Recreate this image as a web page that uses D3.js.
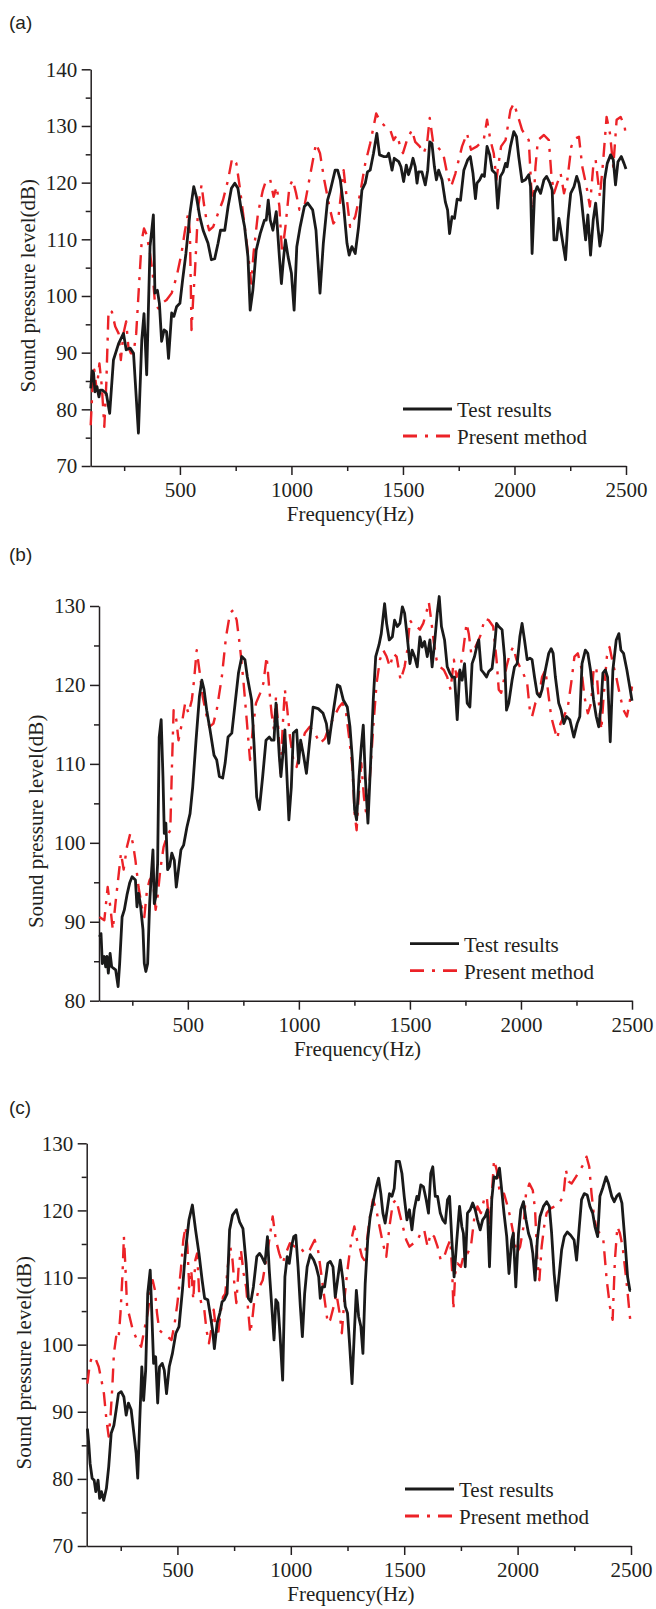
<!DOCTYPE html>
<html>
<head>
<meta charset="utf-8">
<script src="https://cdn.jsdelivr.net/npm/d3@7"></script>
<style>
  body { margin: 0; background: #fff; }
  svg text { font-family: "Liberation Serif", "Times New Roman", serif; fill: #231f20; }
</style>
</head>
<body>
<svg id="chart" width="656" height="1609"></svg>
<script>
// ---- data (Hz, dB) ----
const aTestFreq = [100,107,113,119,128,137,143,152,161,170,185,202,225,247,259,277,292,314,329,339,351,366,381,388,399,408,418,429,440,449,463,473,485,500,512,527,545,562,574,589,604,626,641,656,671,682,701,716,731,746,760,775,790,805,815,827,842,860,879,887,896,905,917,932,946,955,964,973,985,1000,1012,1024,1039,1058,1073,1095,1110,1128,1143,1162,1173,1196,1207,1219,1234,1249,1259,1271,1286,1301,1316,1331,1341,1353,1368,1383,1395,1413,1428,1436,1451,1461,1481,1491,1503,1515,1525,1536,1545,1555,1563,1570,1585,1600,1611,1620,1630,1641,1650,1660,1675,1690,1700,1709,1720,1731,1743,1758,1773,1790,1802,1814,1825,1832,1844,1855,1865,1877,1889,1900,1915,1925,1937,1949,1960,1967,1982,1997,2009,2019,2034,2049,2064,2072,2079,2090,2102,2117,2132,2144,2159,2169,2177,2189,2199,2210,2229,2240,2252,2267,2279,2289,2299,2308,2319,2329,2341,2353,2364,2374,2383,2394,2404,2416,2431,2443,2453,2464,2479,2491,2500];
const aTestSpl = [83.7,86.8,86.4,83.1,84.0,82.2,83.4,83.4,83.1,82.8,79.3,88.7,91.6,93.4,90.5,90.8,89.9,75.8,92.2,96.9,86.1,108.7,114.3,100.5,101.0,98.7,92.0,94.0,93.7,89.0,97.0,96.4,98.1,98.7,102.8,107.5,114.6,119.3,117.5,114.0,111.6,109.3,106.4,106.6,109.3,111.6,111.6,115.8,119.0,119.9,119.0,115.2,112.2,106.9,97.5,101.0,108.1,111.0,113.4,113.4,116.9,113.4,111.6,114.9,106.9,102.2,106.4,109.9,106.9,104.0,97.5,108.7,112.2,115.8,116.4,115.2,111.6,100.5,109.3,116.9,118.4,122.2,122.2,120.5,115.8,109.3,107.2,108.7,107.5,112.2,118.7,119.9,121.9,122.2,125.2,128.7,124.9,124.6,124.6,125.2,122.2,124.3,123.7,122.8,120.2,123.1,121.4,122.8,124.3,122.8,119.9,121.9,121.9,119.6,122.2,127.2,126.9,122.8,120.5,122.2,120.5,116.6,115.2,111.0,114.0,113.7,117.1,116.9,122.2,124.0,124.6,121.6,117.2,119.9,120.5,121.4,121.1,126.4,124.9,122.2,121.6,115.5,121.1,121.9,123.4,122.8,126.4,129.0,128.1,124.6,120.2,120.5,121.4,119.3,107.5,118.1,119.3,118.1,120.5,121.1,119.9,118.7,109.9,109.9,113.7,111.0,106.4,113.4,118.1,119.3,121.1,119.9,117.5,114.0,109.9,114.3,107.2,113.4,116.4,112.2,108.8,111.6,120.5,123.4,124.9,124.0,119.6,123.7,124.6,123.4,122.4];
const aPredFreq = [100,109,116,127,139,150,161,170,180,195,210,225,235,247,259,269,280,292,304,318,329,339,351,366,378,388,403,418,440,463,485,507,522,537,545,552,560,567,582,597,607,619,631,649,671,693,716,734,753,768,783,798,812,820,830,850,872,887,905,920,934,946,958,973,991,1006,1021,1036,1058,1088,1110,1128,1147,1170,1188,1211,1234,1249,1263,1286,1308,1331,1353,1380,1398,1421,1443,1458,1473,1488,1500,1518,1540,1555,1575,1593,1608,1620,1635,1653,1680,1698,1716,1735,1765,1787,1805,1832,1862,1877,1892,1907,1919,1930,1940,1960,1982,1997,2012,2034,2064,2075,2084,2094,2105,2132,2154,2165,2177,2192,2207,2222,2237,2255,2274,2289,2304,2323,2338,2353,2364,2374,2383,2398,2413,2428,2443,2458,2476,2494,2500];
const aPredSpl = [77.2,84.6,87.0,83.4,88.1,84.0,76.9,84.6,97.5,97.2,94.6,93.4,88.7,93.4,95.5,91.0,89.9,89.9,93.4,102.8,109.9,111.9,110.8,107.5,104.0,98.7,97.8,98.7,99.3,100.5,103.4,107.5,111.4,114.6,111.0,94.0,99.9,104.0,115.8,119.6,116.4,113.4,111.6,112.2,114.6,116.9,120.5,124.3,123.4,119.3,114.6,109.9,105.2,102.2,107.5,114.6,118.7,120.5,120.5,117.5,119.3,115.8,107.5,112.2,119.3,120.5,118.1,115.2,115.8,122.2,126.9,125.2,120.5,115.8,112.8,114.0,122.2,116.9,112.2,114.0,118.1,123.4,126.9,132.2,130.8,129.9,129.3,127.5,128.4,126.4,125.2,127.5,129.3,127.2,126.4,125.2,126.9,131.4,127.2,126.4,125.2,121.6,119.3,121.6,126.4,128.7,125.8,126.4,127.5,131.1,127.5,125.2,120.5,123.7,126.4,127.5,132.8,134.0,132.2,129.3,127.5,119.3,115.2,122.8,127.5,128.4,127.5,121.6,118.1,119.9,121.6,118.1,120.5,126.4,127.8,128.1,122.8,119.3,115.8,122.8,124.0,120.5,117.5,124.0,131.6,128.7,122.8,131.1,131.6,129.9,128.0];

const bTestFreq = [102,109,115,124,130,136,142,150,157,166,175,186,193,204,214,226,238,249,264,271,278,286,298,304,311,319,328,335,343,349,356,364,371,380,388,394,401,409,418,428,439,448,458,469,481,496,510,522,537,552,563,573,585,600,618,630,642,657,668,681,698,713,728,743,757,768,787,798,810,822,837,852,867,877,888,897,904,912,919,927,937,945,955,966,975,990,999,1008,1022,1034,1049,1064,1087,1109,1124,1135,1143,1158,1173,1185,1200,1218,1230,1241,1251,1260,1271,1281,1290,1299,1311,1323,1335,1346,1361,1371,1386,1395,1407,1421,1431,1443,1455,1466,1476,1488,1500,1510,1521,1533,1545,1555,1566,1578,1590,1600,1611,1623,1632,1642,1656,1668,1680,1690,1701,1713,1725,1735,1746,1758,1770,1780,1791,1803,1810,1821,1833,1845,1855,1870,1881,1890,1900,1915,1926,1935,1945,1960,1971,1983,1995,2005,2016,2028,2040,2050,2061,2073,2085,2095,2110,2125,2136,2145,2155,2170,2181,2193,2205,2220,2238,2253,2265,2275,2290,2301,2313,2327,2339,2350,2360,2369,2380,2390,2402,2414,2429,2441,2450,2462,2477,2492,2500];
const bTestSpl = [88.1,88.5,84.7,85.6,84.3,85.6,83.5,86.0,84.3,84.1,83.9,81.8,84.7,90.6,91.5,93.4,94.9,95.7,95.3,91.9,93.6,92.3,89.0,84.7,83.7,84.7,92.3,95.7,99.1,92.3,93.2,97.4,113.4,115.6,108.4,101.2,102.5,96.6,97.0,98.7,97.8,94.4,96.6,99.1,99.7,102.0,103.7,107.1,113.0,118.5,120.6,119.4,116.8,114.3,111.1,110.5,108.4,108.2,110.1,113.4,113.9,117.7,121.5,123.6,123.2,121.0,118.1,112.6,105.8,104.2,108.4,113.0,113.4,113.0,113.0,117.7,114.7,110.9,108.4,110.9,114.3,109.2,102.9,107.1,113.9,114.3,110.1,113.0,110.9,108.8,113.0,117.2,117.0,116.4,115.1,112.6,114.3,117.2,120.0,119.8,118.1,117.2,114.7,110.5,104.2,102.9,108.4,112.2,114.9,108.4,102.5,110.1,118.1,123.6,125.1,126.5,130.3,127.8,125.7,126.1,128.2,127.4,127.8,129.9,129.1,126.1,122.7,124.4,123.6,122.3,126.1,124.8,125.5,123.6,125.7,122.3,125.3,129.1,131.2,127.4,125.7,122.3,121.5,121.0,121.0,115.6,121.9,120.6,122.7,117.7,117.2,122.7,123.6,125.1,125.7,121.9,121.5,121.0,121.7,122.1,124.8,127.8,127.4,127.0,123.6,116.8,117.7,120.6,122.3,122.7,126.1,127.8,125.7,123.2,123.4,123.2,121.0,118.9,118.5,119.4,121.9,124.0,124.6,124.0,121.0,117.7,116.8,115.1,116.0,115.6,113.4,115.1,116.0,122.7,124.4,124.0,121.9,118.1,116.0,114.7,117.2,121.5,121.9,121.0,112.8,121.9,125.7,126.5,124.4,124.0,121.9,119.4,118.0];
const bPredFreq = [102,124,139,151,162,174,189,199,211,226,241,253,264,278,293,304,316,328,338,346,355,364,376,391,406,421,428,436,448,458,473,488,503,518,528,540,552,567,582,597,615,630,653,672,690,705,720,735,750,765,780,792,807,825,840,855,867,877,888,897,907,918,927,937,948,960,975,990,1005,1027,1049,1072,1094,1117,1136,1143,1166,1181,1196,1211,1226,1241,1251,1260,1271,1281,1293,1305,1320,1335,1350,1365,1380,1395,1410,1425,1440,1458,1476,1488,1500,1515,1530,1545,1560,1575,1585,1596,1608,1620,1635,1653,1668,1683,1698,1710,1725,1740,1755,1765,1776,1788,1803,1821,1836,1855,1875,1890,1900,1911,1923,1935,1950,1965,1980,1995,2010,2028,2040,2050,2065,2080,2095,2110,2125,2136,2148,2163,2178,2193,2211,2226,2241,2256,2271,2286,2301,2316,2327,2339,2351,2362,2372,2387,2399,2414,2429,2447,2462,2477,2489,2500];
const bPredSpl = [90.6,90.2,94.4,91.9,89.0,92.3,96.1,98.7,96.6,99.5,101.2,99.9,97.8,94.4,91.9,90.6,94.0,95.3,95.7,94.4,91.5,93.2,96.6,99.5,100.8,101.6,109.2,116.8,115.6,113.0,115.1,117.7,116.4,118.1,120.6,124.4,121.9,118.5,116.4,114.7,115.1,116.8,121.0,126.1,129.1,129.5,128.2,124.8,120.6,115.6,110.5,114.3,117.7,118.9,120.2,123.6,119.4,116.4,114.3,118.5,114.7,108.8,114.7,119.4,116.8,113.4,110.5,109.6,111.8,113.9,114.7,113.9,112.6,113.2,114.7,115.1,116.4,117.2,117.7,116.8,113.4,109.6,103.7,101.6,106.7,110.1,105.8,103.3,108.4,114.7,120.2,123.2,124.4,123.6,122.3,124.0,123.6,120.6,122.3,124.4,128.2,127.6,127.4,127.0,127.8,129.3,130.5,128.2,125.3,123.2,122.3,121.9,121.0,119.4,123.2,121.0,121.9,124.4,127.8,126.5,124.0,124.4,125.3,126.5,128.4,128.2,127.4,123.2,119.4,119.0,120.6,122.3,124.0,124.8,123.2,122.3,121.5,120.2,116.8,116.0,117.7,118.5,121.0,121.9,118.5,116.0,114.7,113.2,115.1,116.0,117.2,120.2,123.6,124.0,122.3,118.5,116.4,117.7,121.9,122.3,117.7,114.3,118.5,123.6,124.8,122.7,121.0,118.5,116.8,116.0,117.7,119.8];

const cTestFreq = [103,109,115,124,133,140,150,157,165,175,187,197,208,220,230,240,252,264,274,284,296,308,318,325,334,343,351,360,369,380,386,395,404,413,421,433,442,452,464,478,493,507,522,536,551,566,580,595,609,620,634,646,656,663,675,687,697,707,719,730,743,760,774,789,803,813,824,835,850,862,872,886,897,905,916,926,934,943,952,964,974,984,993,1003,1013,1022,1032,1042,1051,1061,1072,1086,1101,1112,1123,1130,1139,1149,1163,1174,1186,1196,1206,1218,1230,1240,1250,1259,1270,1280,1289,1299,1309,1318,1328,1339,1350,1365,1377,1387,1397,1406,1416,1427,1435,1446,1456,1465,1479,1490,1500,1512,1523,1534,1544,1556,1563,1573,1585,1597,1607,1617,1626,1637,1647,1659,1670,1681,1691,1700,1710,1720,1732,1744,1754,1761,1769,1779,1791,1802,1813,1823,1835,1846,1857,1867,1876,1886,1896,1908,1920,1930,1940,1952,1962,1974,1981,1992,2004,2014,2026,2037,2048,2058,2067,2077,2087,2099,2114,2128,2140,2150,2161,2172,2184,2194,2206,2219,2234,2249,2260,2272,2282,2294,2307,2319,2331,2341,2353,2363,2375,2390,2401,2415,2426,2437,2448,2460,2473,2485,2495,2500];
const cTestSpl = [87.5,85.3,82.3,80.1,79.8,78.1,79.8,77.1,78.1,76.8,78.6,81.8,86.8,88.0,90.3,92.7,93.0,92.2,89.5,91.3,90.3,86.8,83.8,80.1,88.8,96.7,91.7,96.2,107.6,111.1,105.7,97.2,98.2,91.3,96.7,97.2,96.2,92.7,96.7,98.7,101.7,102.7,108.1,114.1,118.6,120.8,117.1,113.6,109.6,106.9,106.7,104.2,101.9,99.4,103.2,104.7,106.4,106.7,107.6,117.1,119.3,120.1,118.3,117.3,112.1,106.9,106.4,108.6,113.1,113.6,113.1,112.1,116.1,111.1,105.7,100.7,106.7,106.2,101.7,94.7,110.1,113.1,112.1,114.6,116.1,116.3,111.6,105.7,101.2,107.6,111.6,113.4,112.6,111.6,110.1,106.9,108.6,108.6,112.1,112.4,111.6,107.1,109.6,112.6,109.6,105.7,104.7,100.2,94.2,101.7,108.1,104.2,102.7,98.7,109.1,115.6,119.1,121.6,123.5,124.8,122.5,119.6,118.1,120.6,122.5,122.1,123.3,127.3,127.3,125.5,122.1,118.6,120.1,117.1,120.1,122.1,121.6,123.8,123.5,121.6,119.6,125.5,126.5,122.1,122.1,119.6,118.6,118.1,121.6,122.1,115.6,110.1,115.6,120.6,117.6,116.6,111.6,119.6,120.1,121.1,120.1,118.6,117.1,118.6,119.1,120.1,111.6,121.6,125.0,124.8,126.3,123.0,119.6,116.1,110.6,115.6,116.6,108.6,116.6,120.1,121.3,118.6,116.6,115.6,113.6,109.6,115.6,119.1,120.6,121.3,120.6,116.6,110.6,106.6,110.6,114.1,116.1,116.8,116.3,115.6,112.6,117.6,121.6,122.5,122.3,120.6,119.6,117.6,116.1,122.1,123.3,125.0,124.0,122.1,121.3,122.1,122.5,121.1,115.6,110.1,108.1,108.1];
const cPredFreq = [103,114,124,138,153,165,176,187,197,205,213,220,230,240,249,258,264,270,278,289,303,322,340,354,369,380,391,401,410,420,434,456,474,488,500,515,526,536,544,552,561,570,579,587,596,605,617,628,639,649,660,669,678,690,701,711,722,733,743,752,760,770,780,792,803,813,821,830,838,850,862,876,891,905,920,934,949,964,978,996,1018,1040,1061,1083,1105,1120,1134,1149,1163,1174,1189,1201,1215,1225,1236,1248,1259,1270,1280,1292,1303,1314,1324,1336,1347,1362,1377,1391,1406,1421,1435,1450,1465,1479,1494,1509,1523,1541,1559,1573,1588,1603,1617,1632,1647,1661,1676,1691,1703,1712,1717,1725,1735,1750,1764,1779,1794,1808,1823,1838,1852,1864,1876,1885,1896,1908,1920,1930,1940,1952,1967,1981,1996,2011,2026,2037,2052,2067,2077,2087,2096,2106,2117,2128,2146,2165,2184,2202,2213,2225,2238,2257,2275,2293,2304,2316,2326,2337,2349,2363,2378,2393,2407,2419,2429,2440,2451,2463,2473,2484,2495,2500];
const cPredSpl = [94.2,97.2,98.2,98.0,96.7,94.7,92.7,88.8,86.3,89.3,93.7,98.7,101.2,100.7,104.7,110.6,116.1,112.1,105.7,104.2,102.2,100.7,99.7,102.2,104.7,107.6,109.6,108.1,104.7,102.2,101.7,101.2,100.7,103.2,106.2,111.1,115.6,117.6,114.6,108.6,111.1,106.7,112.6,113.6,107.6,106.2,105.7,102.2,100.2,102.2,105.2,102.7,101.2,104.7,107.1,107.6,111.6,114.6,112.6,108.6,106.2,111.6,114.1,110.6,108.6,104.7,101.7,103.7,106.2,107.1,108.6,109.6,112.6,115.6,119.1,115.6,113.6,112.1,113.6,115.1,114.6,114.6,113.6,114.1,115.6,114.1,110.6,106.7,103.2,103.7,105.7,107.6,104.7,101.7,106.7,110.6,113.6,116.1,117.6,115.6,114.6,113.1,112.6,115.6,118.6,121.6,120.1,117.6,115.1,113.1,117.6,121.1,121.6,119.6,117.6,115.6,114.6,115.1,115.6,116.6,117.1,114.6,116.6,116.1,114.6,112.6,113.1,114.6,115.6,110.6,105.2,110.6,112.1,111.6,113.6,113.6,114.6,118.6,120.6,119.6,121.6,122.1,117.6,121.6,127.5,126.0,123.0,122.1,122.5,121.1,119.1,116.6,113.6,114.6,117.6,122.5,124.0,123.0,120.1,112.6,109.6,114.6,117.6,119.6,120.3,120.6,121.1,122.1,126.0,124.3,124.0,125.0,126.0,127.0,128.0,126.5,122.5,119.1,117.1,116.6,115.6,109.6,105.7,103.7,112.6,117.6,116.6,114.6,111.6,108.1,104.2,102.7];

const xMajorTicks = [500, 1000, 1500, 2000, 2500];
const xMinorTicks = [250, 750, 1250, 1750, 2250];
const seriesNames = ['Test results', 'Present method'];
const panelLabels = ['(a)', '(b)', '(c)'];

// ---- layout (pixel geometry per panel) ----
const panels = [
    { label: panelLabels[0], labelY: 29, left: 90.7, right: 626, top: 69.3, bottom: 466, yDomain: [70, 140],
      test: [aTestFreq, aTestSpl], pred: [aPredFreq, aPredSpl], legendDx: 223 },
    { label: panelLabels[1], labelY: 561, left: 99, right: 632, top: 606, bottom: 1000.7, yDomain: [80, 130],
      test: [bTestFreq, bTestSpl], pred: [bPredFreq, bPredSpl], legendDx: 222 },
    { label: panelLabels[2], labelY: 1114, left: 86.7, right: 631, top: 1143.3, bottom: 1546, yDomain: [70, 130],
      test: [cTestFreq, cTestSpl], pred: [cPredFreq, cPredSpl], legendDx: 226 }
];

const RED = '#ec2227';
const BLACK = '#1a1a1a';
const DASH = '14,8,3,8';
const FONT = 21;

const svg = d3.select('#chart');

function styleAxis(g) {
    g.attr('font-size', null).attr('font-family', null);
    g.select('.domain').attr('stroke', '#231f20').attr('stroke-width', 1.5);
    g.selectAll('.tick line').attr('stroke', '#231f20').attr('stroke-width', 1.5);
    g.selectAll('.tick text').style('font-size', FONT + 'px');
}

panels.forEach((p) => {

    const x = d3.scaleLinear().domain([100, 2500]).range([p.left, p.right]);
    const y = d3.scaleLinear().domain(p.yDomain).range([p.bottom, p.top]);

    const yMajor = d3.range(p.yDomain[0], p.yDomain[1] + 1, 10);
    const yMinor = d3.range(p.yDomain[0] + 5, p.yDomain[1], 10);

    const g = svg.append('g');

    // minor ticks first, majors (with the axis line) on top
    g.append('g').attr('transform', `translate(0,${p.bottom})`)
        .call(d3.axisBottom(x).tickValues(xMinorTicks).tickFormat('').tickSize(5).tickSizeOuter(0))
        .call(styleAxis).select('.domain').remove();
    g.append('g').attr('transform', `translate(${p.left},0)`)
        .call(d3.axisLeft(y).tickValues(yMinor).tickFormat('').tickSize(5).tickSizeOuter(0))
        .call(styleAxis).select('.domain').remove();

    g.append('g').attr('transform', `translate(0,${p.bottom})`)
        .call(d3.axisBottom(x).tickValues(xMajorTicks).tickFormat(d3.format('d'))
            .tickSize(9).tickPadding(7).tickSizeOuter(0))
        .call(styleAxis);
    g.append('g').attr('transform', `translate(${p.left},0)`)
        .call(d3.axisLeft(y).tickValues(yMajor).tickFormat(d3.format('d'))
            .tickSize(9).tickPadding(4.5).tickSizeOuter(0))
        .call(styleAxis);

    // axis titles
    g.append('text')
        .attr('transform', `translate(${p.left - 56},${(p.top + p.bottom) / 2 + 18}) rotate(-90)`)
        .attr('text-anchor', 'middle')
        .style('font-size', FONT + 'px')
        .text('Sound pressure level(dB)');
    g.append('text')
        .attr('x', (p.left + p.right) / 2 - 8)
        .attr('y', p.bottom + 55)
        .attr('text-anchor', 'middle')
        .style('font-size', FONT + 'px')
        .text('Frequency(Hz)');

    // panel label
    g.append('text')
        .attr('x', 9).attr('y', p.labelY)
        .style('font-family', '"Liberation Sans", Arial, sans-serif')
        .style('font-size', '19px')
        .text(p.label);

    const line = d3.line().x((d) => x(d[0])).y((d) => y(d[1]));

    const testPts = d3.zip(p.test[0], p.test[1]);
    const predPts = d3.zip(p.pred[0], p.pred[1]);

    g.append('path').datum(predPts)
        .attr('d', line)
        .attr('fill', 'none').attr('stroke', RED).attr('stroke-width', 2.4)
        .attr('stroke-dasharray', DASH).attr('stroke-linejoin', 'round');

    g.append('path').datum(testPts)
        .attr('d', line)
        .attr('fill', 'none').attr('stroke', BLACK).attr('stroke-width', 2.8)
        .attr('stroke-linejoin', 'round');

    // legend
    const lx = p.right - p.legendDx;
    const ly = p.bottom - 57;
    const legend = g.append('g');
    [[BLACK, null], [RED, DASH]].forEach(([col, dash], i) => {
        const yy = ly + i * 27;
        legend.append('line')
            .attr('x1', lx).attr('x2', lx + 49).attr('y1', yy).attr('y2', yy)
            .attr('stroke', col).attr('stroke-width', 2.8)
            .attr('stroke-dasharray', dash);
        legend.append('text')
            .attr('x', lx + 54).attr('y', yy + 8)
            .style('font-size', FONT + 'px')
            .text(seriesNames[i]);
    });

});
</script>
</body>
</html>
